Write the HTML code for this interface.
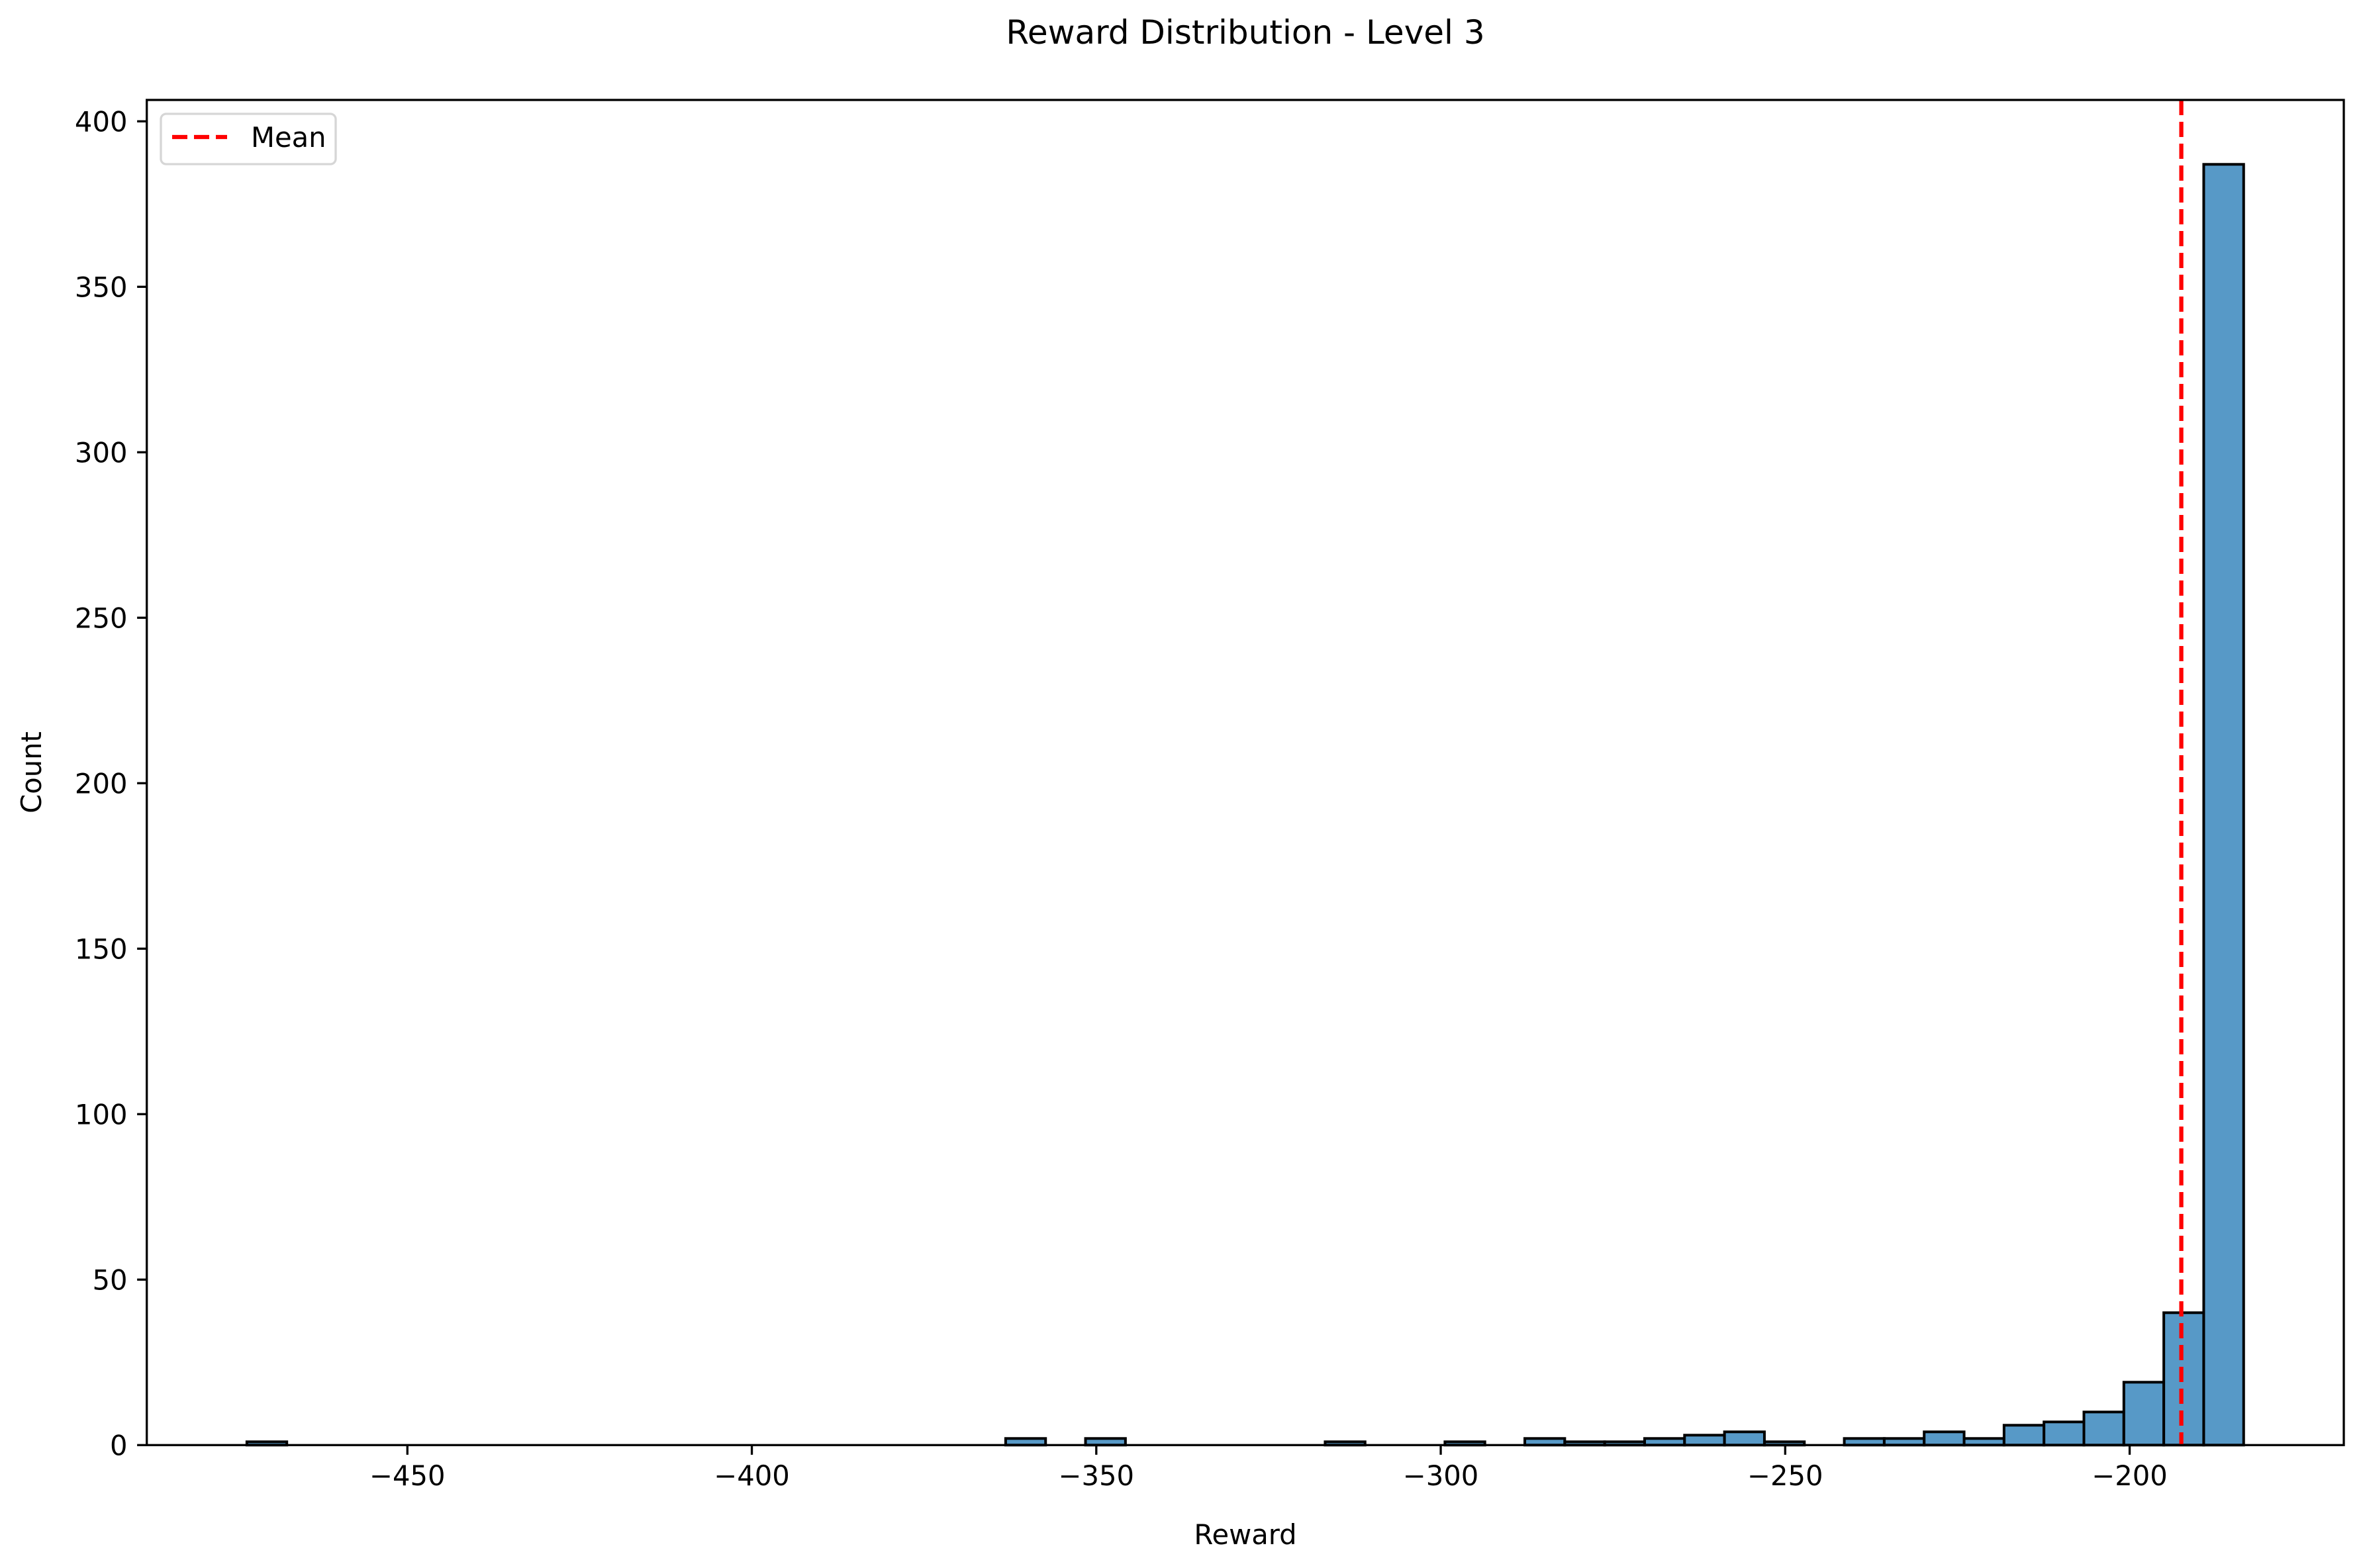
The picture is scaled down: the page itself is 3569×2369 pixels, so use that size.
<!DOCTYPE html>
<html><head><meta charset="utf-8"><style>
html,body{margin:0;padding:0;background:#fff;}
svg{display:block;font-family:"DejaVu Sans","Liberation Sans",sans-serif;}
</style></head><body>
<svg id="chart" width="3569" height="2369" viewBox="0 0 3569 2369" xmlns="http://www.w3.org/2000/svg">
<rect width="3569" height="2369" fill="#fff"/>
<text x="1881" y="66" font-size="50" text-anchor="middle">Reward Distribution - Level 3</text>
<g id="bars"></g>
<g id="xticks"></g>
<g id="yticks"></g>
<line id="meanline" stroke="#ff0000" stroke-width="6.25" stroke-dasharray="23 10"/>
<rect x="221.7" y="151" width="3318.3" height="2032.3" fill="none" stroke="#000" stroke-width="3.3"/>
<text x="1881" y="2333" font-size="41.7" text-anchor="middle">Reward</text>
<text x="0" y="0" font-size="41.7" text-anchor="middle" transform="translate(62,1167) rotate(-90)">Count</text>
<g>
<rect x="243" y="172" width="264" height="76" rx="8" fill="#fff" fill-opacity="0.8" stroke="#d6d6d6" stroke-width="3.3"/>
<line x1="260" y1="207" x2="343" y2="207" stroke="#ff0000" stroke-width="6.25" stroke-dasharray="23 10"/>
<text x="379" y="222" font-size="41.7">Mean</text>
</g>
</svg>
<script>
const binStart = -473.3;
const binWidth = 5.797;
const counts = [1,0,0,0,0,0,0,0,0,0, 0,0,0,0,0,0,0,0,0,2, 0,2,0,0,0,0,0,1,0,0, 1,0,2,1,1,2,3,4,1,0, 2,2,4,2,6,7,10,19,40,387];
const meanValue = -192.5;
const xTickValues = [-450,-400,-350,-300,-250,-200];
const xTickLabels = ["\u2212450","\u2212400","\u2212350","\u2212300","\u2212250","\u2212200"];
const yTickValues = [0,50,100,150,200,250,300,350,400];
const yTickLabels = ["0","50","100","150","200","250","300","350","400"];

const NS = "http://www.w3.org/2000/svg";
function xs(v){ return 615.3 + (v + 450) * 10.405; }
function ys(v){ return 2183.3 - v * 5.0; }
function mk(tag, attrs, parent){ const e=document.createElementNS(NS,tag); for(const k in attrs) e.setAttribute(k,attrs[k]); parent.appendChild(e); return e; }

const bars = document.getElementById('bars');
counts.forEach((c,i)=>{
  if(c<=0) return;
  const x0 = xs(binStart + i*binWidth), x1 = xs(binStart + (i+1)*binWidth);
  const r = mk('rect',{x:x0,y:ys(c),width:x1-x0,height:ys(0)-ys(c),fill:'#5799c7',stroke:'#000','stroke-width':4},bars);
  
  
});

const xt = document.getElementById('xticks');
xTickValues.forEach((v,i)=>{
  const l = mk('line',{x1:xs(v),x2:xs(v),y1:2183.3,y2:2197.9,stroke:'#000','stroke-width':3.3},xt);
  
  
  const t = mk('text',{x:xs(v),y:2244,'font-size':41.7,'text-anchor':'middle'},xt);
  t.textContent = xTickLabels[i];
  
  
});

const yt = document.getElementById('yticks');
yTickValues.forEach((v,i)=>{
  const l = mk('line',{x1:207.1,x2:221.7,y1:ys(v),y2:ys(v),stroke:'#000','stroke-width':3.3},yt);
  
  
  const t = mk('text',{x:192.5,y:ys(v)+15,'font-size':41.7,'text-anchor':'end'},yt);
  t.textContent = yTickLabels[i];
  
  
});

const ml = document.getElementById('meanline');
ml.setAttribute('x1', xs(meanValue));
ml.setAttribute('x2', xs(meanValue));
ml.setAttribute('y1', 151);
ml.setAttribute('y2', 2183.3);
</script>
</body></html>
